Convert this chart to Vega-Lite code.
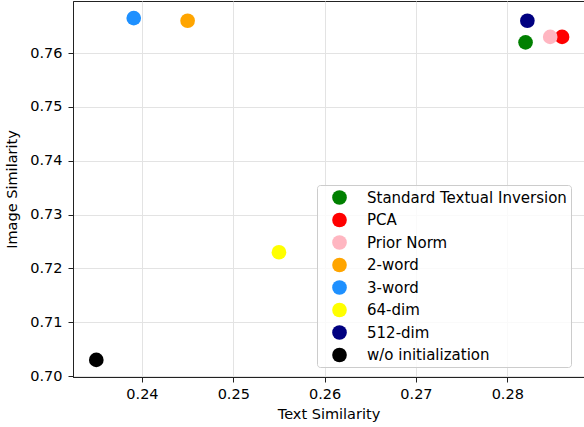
{
  "$schema": "https://vega.github.io/schema/vega-lite/v6.json",
  "width": 511,
  "height": 376,
  "autosize": {"type": "none"},
  "padding": {"left": 73, "top": 1, "right": 0, "bottom": 50},
  "background": "white",
  "config": {
    "font": "DejaVu Sans",
    "view": {"stroke": "#222", "strokeWidth": 1}
  },
  "data": {
    "values": [
      {"method": "Standard Textual Inversion", "text": 0.282, "image": 0.762},
      {"method": "PCA", "text": 0.286, "image": 0.763},
      {"method": "Prior Norm", "text": 0.2847, "image": 0.763},
      {"method": "2-word", "text": 0.245, "image": 0.766},
      {"method": "3-word", "text": 0.2391, "image": 0.7665},
      {"method": "64-dim", "text": 0.255, "image": 0.723},
      {"method": "512-dim", "text": 0.2822, "image": 0.766},
      {"method": "w/o initialization", "text": 0.235, "image": 0.703}
    ]
  },
  "mark": {"type": "point", "shape": "circle", "filled": true, "opacity": 1, "size": 215},
  "encoding": {
    "x": {
      "field": "text", "type": "quantitative",
      "scale": {"domain": [0.23245, 0.2884], "nice": false, "zero": false},
      "axis": {
        "title": "Text Similarity", "values": [0.24, 0.25, 0.26, 0.27, 0.28], "format": ".2f",
        "labelFontSize": 14.5, "titleFontSize": 14.5, "titleFontWeight": "normal",
        "labelColor": "#000", "titleColor": "#000",
        "domainColor": "#222", "tickColor": "#222", "tickSize": 5, "labelPadding": 5,
        "titlePadding": 7, "gridColor": "#e3e3e3", "gridWidth": 1
      }
    },
    "y": {
      "field": "image", "type": "quantitative",
      "scale": {"domain": [0.699825, 0.769675], "nice": false, "zero": false},
      "axis": {
        "title": "Image Similarity", "values": [0.70, 0.71, 0.72, 0.73, 0.74, 0.75, 0.76], "format": ".2f",
        "labelFontSize": 14.5, "titleFontSize": 14.5, "titleFontWeight": "normal",
        "labelColor": "#000", "titleColor": "#000",
        "domainColor": "#222", "tickColor": "#222", "tickSize": 5, "labelPadding": 6,
        "titlePadding": 10, "gridColor": "#e3e3e3", "gridWidth": 1
      }
    },
    "color": {
      "field": "method", "type": "nominal",
      "scale": {
        "domain": ["Standard Textual Inversion", "PCA", "Prior Norm", "2-word", "3-word", "64-dim", "512-dim", "w/o initialization"],
        "range": ["#008000", "#ff0000", "#ffb6c1", "#ffa500", "#1e90ff", "#ffff00", "#000080", "#000000"]
      },
      "legend": {
        "title": null, "orient": "none", "legendX": 244, "legendY": 184,
        "symbolType": "circle", "symbolSize": 215, "symbolOpacity": 1,
        "labelFontSize": 15, "labelColor": "#000", "labelOffset": 19,
        "rowPadding": 5.5, "padding": 4, "symbolOffset": 10,
        "fillColor": "rgba(255,255,255,0.8)", "strokeColor": "#cccccc", "cornerRadius": 3,
        "labelLimit": 300
      }
    }
  }
}
